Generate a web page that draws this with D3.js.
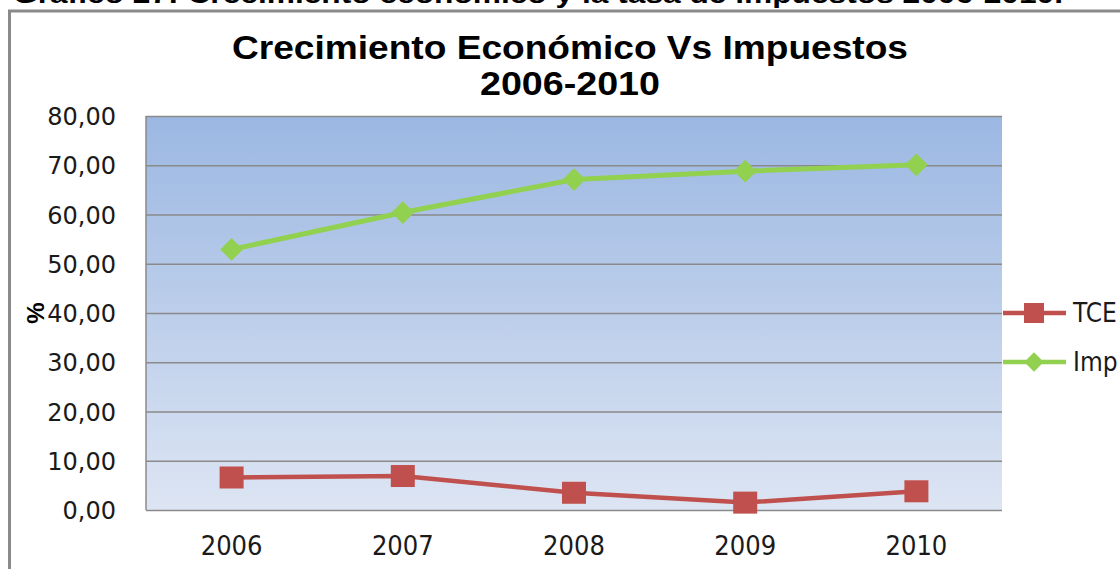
<!DOCTYPE html>
<html><head><meta charset="utf-8">
<script src="https://cdn.jsdelivr.net/npm/d3@7"></script>
<style>html,body{margin:0;padding:0;background:#fff;overflow:hidden}svg{display:block}</style>
</head><body>
<script>
const years = ["2006","2007","2008","2009","2010"];
const tceValues = [6.6, 6.9, 3.5, 1.5, 3.8];
const impValues = [52.9, 60.4, 67.1, 68.8, 70.1];
const yTicks = [0,10,20,30,40,50,60,70,80];
const seriesNames = ["TCE","Imp"];
const captionText = "Gráfico 27: Crecimiento económico y la tasa de impuestos 2006-2010.";
const titleLines = ["Crecimiento Económico Vs Impuestos","2006-2010"];
const titleWidths = [676, 180];

const W=1120,H=569;
const svg=d3.select("body").append("svg").attr("width",W).attr("height",H);
const defs=svg.append("defs");
const grad=defs.append("linearGradient").attr("id","bg").attr("x1",0).attr("y1",0).attr("x2",0).attr("y2",1);
grad.append("stop").attr("offset","0%").attr("stop-color","#9bb7e2");
grad.append("stop").attr("offset","100%").attr("stop-color","#dde5f3");

// caption clipped at top (as in the reference)
svg.append("text").attr("x",13).attr("y",3).attr("font-family","Liberation Sans, Arial, sans-serif")
  .attr("font-weight","bold").attr("font-size",25).attr("fill","#000")
  .attr("textLength",1050).attr("lengthAdjust","spacingAndGlyphs").text(captionText);

// outer frame
svg.append("rect").attr("x",9.5).attr("y",11).attr("width",1130).attr("height",580)
  .attr("fill","#fff").attr("stroke","#8a8a8a").attr("stroke-width",3);

// titles
svg.selectAll("text.title").data(titleLines).enter().append("text").attr("class","title")
  .attr("x",570).attr("y",(d,i)=>59+i*36).attr("text-anchor","middle")
  .attr("font-family","Liberation Sans, Arial, sans-serif").attr("font-weight","bold").attr("font-size",34)
  .attr("textLength",(d,i)=>titleWidths[i]).attr("lengthAdjust","spacingAndGlyphs")
  .attr("fill","#000").text(d=>d);

const L=146,R=1002,T=116,B=510;
const x=d3.scaleBand().domain(years).range([L,R]);
const y=d3.scaleLinear().domain([0,80]).range([B,T]);

svg.append("rect").attr("x",L).attr("y",T).attr("width",R-L).attr("height",B-T).attr("fill","url(#bg)");

// gridlines
const grid=svg.append("g").call(d3.axisLeft(y).tickValues(yTicks).tickSize(-(R-L)).tickFormat(""))
  .attr("transform",`translate(${L},0)`);
grid.select(".domain").remove();
grid.selectAll("line").attr("stroke","#8a8a8a").attr("stroke-width",1.5);
svg.append("line").attr("x1",L).attr("x2",L).attr("y1",T).attr("y2",B).attr("stroke","#8a8a8a").attr("stroke-width",1.5);

// y tick labels
const yAxis=svg.append("g").attr("transform",`translate(${L},0)`)
  .call(d3.axisLeft(y).tickValues(yTicks).tickSize(0).tickPadding(30).tickFormat(d=>d3.format(".2f")(d).replace(".",",")));
yAxis.select(".domain").remove();
yAxis.selectAll("text").attr("font-family","DejaVu Sans, Verdana, sans-serif").attr("font-size",24).attr("fill","#1a1a1a").attr("dy","0.36em");

// x tick labels
const xAxis=svg.append("g").attr("transform",`translate(0,${B})`)
  .call(d3.axisBottom(x).tickSize(0).tickPadding(0));
xAxis.select(".domain").remove();
xAxis.selectAll("text").attr("font-family","Liberation Sans Narrow, DejaVu Sans Condensed, Arial, sans-serif")
  .attr("font-size",27).attr("fill","#1a1a1a").attr("y",45).attr("dy",0);

// y axis title
svg.append("text").attr("transform","translate(44,313) rotate(-90)").attr("text-anchor","middle")
  .attr("font-family","Liberation Sans, Arial, sans-serif").attr("font-weight","bold").attr("font-size",24).text("%");

const cx=d=>x(d)+x.bandwidth()/2;
const red="#c0504d",green="#92d050";
const line=d3.line().x(d=>cx(d[0])).y(d=>y(d[1]));
const impData=years.map((yr,i)=>[yr,impValues[i]]);
const tceData=years.map((yr,i)=>[yr,tceValues[i]]);

svg.append("path").datum(impData).attr("d",line).attr("fill","none").attr("stroke",green).attr("stroke-width",5);
svg.selectAll("path.dia").data(impData).enter().append("path").attr("class","dia")
  .attr("d",d3.symbol(d3.symbolDiamond2,330)()).attr("fill",green)
  .attr("transform",d=>`translate(${cx(d[0])},${y(d[1])})`);

svg.append("path").datum(tceData).attr("d",line).attr("fill","none").attr("stroke",red).attr("stroke-width",4.5);
svg.selectAll("rect.sq").data(tceData).enter().append("rect").attr("class","sq")
  .attr("x",d=>cx(d[0])-12).attr("y",d=>y(d[1])-11).attr("width",24).attr("height",22).attr("fill",red);

// legend
const leg=svg.append("g");
const legY=[313,362];
const colors=[red,green];
seriesNames.forEach((n,i)=>{
  const g=leg.append("g").attr("transform",`translate(0,${legY[i]})`);
  g.append("line").attr("x1",1003).attr("x2",1066).attr("y1",0).attr("y2",0).attr("stroke",colors[i]).attr("stroke-width",4.5);
  if(i===0) g.append("rect").attr("x",1024).attr("y",-10).attr("width",20).attr("height",20).attr("fill",red);
  else g.append("path").attr("d",d3.symbol(d3.symbolDiamond2,240)()).attr("transform","translate(1034,0)").attr("fill",green);
  g.append("text").attr("x",1073).attr("y",9).attr("font-family","Liberation Sans Narrow, DejaVu Sans Condensed, Arial, sans-serif")
    .attr("font-size",26).attr("fill","#1a1a1a").text(n);
});
</script>
</body></html>
